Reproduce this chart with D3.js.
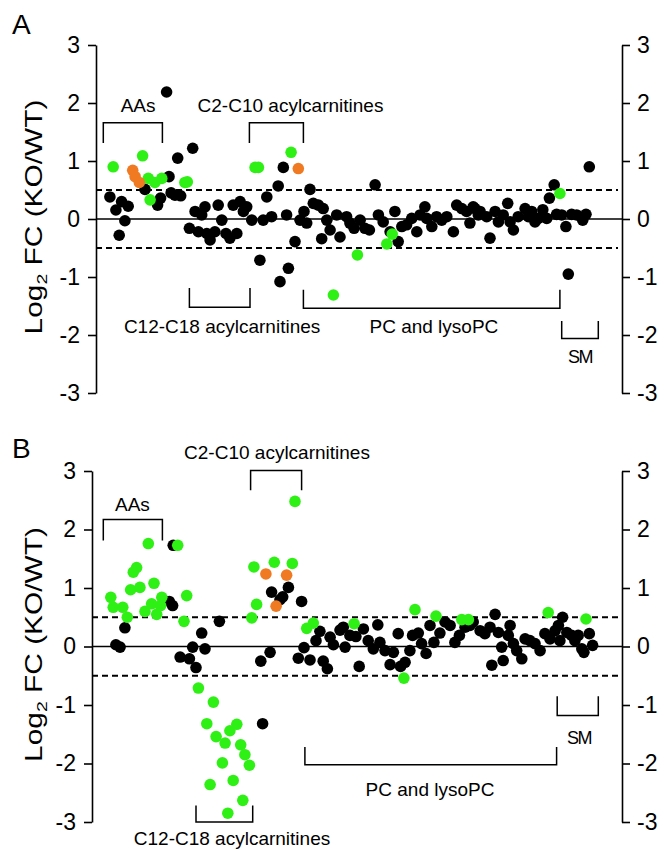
<!DOCTYPE html>
<html>
<head>
<meta charset="utf-8">
<script src="https://cdn.jsdelivr.net/npm/d3@7"></script>
<style>
body { margin: 0; background: #fff; }
svg text { font-family: "Liberation Sans", Arial, Helvetica, sans-serif; fill: #000; }
</style>
</head>
<body>
<div id="chart"></div>
<script>
// x = metabolite order (AAs, acylcarnitines, PC/lysoPC, SM), y = log2 FC (KO/WT)
var yTicks = [-3, -2, -1, 0, 1, 2, 3];
var cutoff = 0.5;

// ---- panel A ----
var aBlackPos = [5.3,7.3,9.2,11.4,10.3,8.4,17.0,24.2,25.0,22.2,21.2,25.7,27.9,28.9,27.0,32.9,31.8,33.7,34.8,37.0,35.9,37.6,38.7,40.3,41.4,42.6,44.0,45.3,47.6,46.4,48.7,49.8,50.9,52.6,55.3,57.6,56.4,59.2,61.4,63.1,62.0,64.8,64.2,72.0,73.1,74.8,76.4,70.0,68.7,70.9,67.0,77.6,78.7,75.9,80.9,82.0,84.2,85.3,86.7,88.7,90.3,91.8,93.7,94.8,96.4,100.3,101.4,98.7,102.6,104.2,105.9,107.6,108.7,110.3,110.9,112.6,114.2,115.9,117.6,119.8,120.9,122.6,124.2,125.3,127.0,128.1,126.4,128.7,130.9,132.0,133.7,134.8,136.4,137.9,138.7,139.8,141.4,143.7,144.8,145.9,147.0,148.1,149.6,150.9,151.8,153.4,154.2,157.3,155.9,158.1,159.2,160.9,162.9,164.0,165.1];
var aBlackFc = [0.38,0.155,0.30,0.22,-0.03,-0.28,0.51,2.19,0.73,0.36,0.24,0.45,1.05,0.40,0.41,1.22,-0.16,0.13,-0.22,0.21,0.07,-0.25,-0.36,-0.22,0.24,-0.02,-0.25,-0.33,-0.25,0.24,0.30,0.13,0.21,-0.02,-0.71,0.38,-0.02,0.04,0.57,0.89,-1.08,-0.85,0.07,0.51,0.27,0.24,0.18,0.13,-0.02,-0.07,-0.39,-0.02,-0.19,-0.34,0.07,-0.31,0.04,-0.07,-0.16,-0.02,-0.16,-0.19,0.59,0.07,-0.05,0.13,-0.39,-0.22,-0.13,-0.10,0.01,-0.22,0.07,0.21,0.01,-0.13,0.04,-0.02,0.04,-0.22,0.24,0.18,0.13,-0.07,0.18,0.07,0.21,0.13,0.04,-0.33,0.13,-0.05,0.07,0.27,-0.05,-0.19,0.04,0.18,0.04,0.13,-0.05,0.01,0.16,0.01,0.36,0.59,0.08,-0.13,0.07,-0.95,0.08,0.07,-0.02,0.08,0.90];
var aGreenPos = [6.4,16.2,18.1,20.3,22.6,18.7,30.3,31.1,53.7,54.8,65.7,87.8,79.8,99.4,97.6,155.3];
var aGreenFc = [0.90,1.09,0.70,0.63,0.70,0.33,0.63,0.64,0.89,0.89,1.15,-0.62,-1.31,-0.26,-0.43,0.44];
var aOrangePos = [12.9,13.7,15.1,68.1];
var aOrangeFc = [0.84,0.73,0.63,0.87];

// ---- panel B ----
var bBlackPos = [10.3,7.3,8.7,25.1,26.2,26.4,28.7,31.8,34.0,32.9,35.9,37.0,41.8,59.2,62.0,62.9,64.8,69.2,58.7,55.6,56.2,70.0,68.1,72.0,75.3,74.0,76.4,77.8,78.7,79.8,82.0,83.7,83.1,85.3,88.4,87.3,89.8,91.4,93.1,94.6,95.3,97.0,98.7,99.8,101.4,102.2,103.7,105.3,106.2,108.1,109.2,110.7,112.0,113.3,115.3,117.0,118.7,120.3,121.8,123.7,126.4,125.3,128.7,130.3,132.0,133.7,134.8,135.9,136.4,132.6,138.7,138.1,139.8,140.9,142.6,143.7,145.3,147.0,148.7,150.3,152.0,153.7,154.8,156.2,155.3,157.6,159.2,160.3,161.4,162.6,163.3,165.1,166.2];
var bBlackFc = [0.32,0.03,-0.01,0.77,0.70,1.73,-0.18,-0.21,-0.36,-0.01,0.23,-0.04,0.43,0.93,0.80,0.85,1.01,0.77,-0.10,-0.25,-1.32,-0.02,-0.20,-0.23,0.26,0.10,-0.25,-0.38,0.16,0.03,0.28,-0.01,0.33,0.19,-0.34,0.17,0.30,0.10,-0.04,0.37,0.07,-0.07,-0.31,-0.10,0.22,-0.34,-0.27,-0.07,0.19,0.23,0.05,-0.12,0.36,0.07,0.23,0.42,0.36,0.07,0.19,0.33,0.42,0.36,0.27,0.22,0.33,0.55,0.24,-0.01,-0.24,-0.32,0.36,0.19,0.05,-0.07,-0.21,0.13,0.10,0.05,-0.07,0.22,0.13,0.27,0.36,0.50,0.10,0.24,0.19,0.10,0.19,-0.04,-0.10,0.22,0.02];
var bGreenPos = [5.6,6.4,9.6,11.1,12.2,13.1,14.2,15.3,18.1,17.0,19.2,20.0,20.9,22.6,22.2,27.9,30.9,30.0,34.8,39.8,37.6,40.7,43.7,45.3,47.6,48.9,50.3,51.8,42.8,46.4,38.7,49.6,44.6,53.3,54.2,52.6,60.1,66.1,67.0,70.9,73.1,86.7,103.3,107.0,114.0,122.6,124.8,151.4,164.0];
var bGreenFc = [0.84,0.67,0.67,0.50,0.97,1.27,1.35,1.01,1.76,0.60,0.73,1.08,0.55,0.84,0.70,1.73,0.87,0.43,-0.71,-0.95,-1.32,-1.54,-1.65,-1.44,-1.33,-1.68,-1.85,-2.03,-1.99,-2.29,-2.36,-2.63,-2.85,1.36,0.72,0.49,1.44,1.42,2.48,0.31,0.40,0.39,-0.54,0.63,0.52,0.46,0.46,0.58,0.47];
var bOrangePos = [57.3,64.2,60.7];
var bOrangeFc = [1.24,1.22,0.69];

// class brackets: [label, from, to, bar y, end y, label x, label y]
var bracketsA = [
  ["AAs", 3.1, 22.8, 1.66, 1.31, 14.7, 1.85],
  ["C2-C10 acylcarnitines", 51.8, 69.8, 1.66, 1.31, 65.5, 1.85],
  ["C12-C18 acylcarnitines", 31.8, 52.0, -1.52, -1.19, 42.7, -1.97],
  ["PC and lysoPC", 69.8, 155.3, -1.54, -1.22, 113.3, -1.97],
  ["SM", 155.9, 168.1, -2.06, -1.76, 162, -2.48]
];
var bracketsB = [
  ["AAs", 3.1, 22.8, 2.17, 1.81, 12.8, 2.32],
  ["C2-C10 acylcarnitines", 52.2, 69.2, 3.01, 2.67, 61, 3.21],
  ["C12-C18 acylcarnitines", 34.0, 52.9, -3.0, -2.72, 46, -3.39],
  ["PC and lysoPC", 70.3, 154.2, -2.02, -1.72, 112, -2.55],
  ["SM", 154.4, 168.1, -1.18, -0.85, 161.7, -1.66]
];

var colors = { k: "#000000", g: "#2ff014", o: "#f07a22" };
var W = 664, H = 850;
var svg = d3.select("#chart").append("svg").attr("width", W).attr("height", H).style("background", "#fff");

var x = d3.scaleLinear().domain([0, 176]).range([94, 622]);
var rightX = 622;

var panels = [
  { letter: "A", top: 45, bottom: 393, leftX: 96, letterY: 34,
    series: [[aBlackPos, aBlackFc, "k"], [aGreenPos, aGreenFc, "g"], [aOrangePos, aOrangeFc, "o"]],
    brackets: bracketsA },
  { letter: "B", top: 471, bottom: 822, leftX: 92, letterY: 458,
    series: [[bBlackPos, bBlackFc, "k"], [bGreenPos, bGreenFc, "g"], [bOrangePos, bOrangeFc, "o"]],
    brackets: bracketsB }
];

panels.forEach(function (p) {
  var y = d3.scaleLinear().domain([-3, 3]).range([p.bottom, p.top]);
  var g = svg.append("g");

  // reference lines
  g.append("line").attr("x1", p.leftX).attr("x2", rightX).attr("y1", y(0)).attr("y2", y(0))
    .attr("stroke", "#000").attr("stroke-width", 1.5);
  [cutoff, -cutoff].forEach(function (c) {
    g.append("line").attr("x1", p.leftX).attr("x2", 618).attr("y1", y(c)).attr("y2", y(c))
      .attr("stroke", "#000").attr("stroke-width", 2).attr("stroke-dasharray", "6,4");
  });

  // axes
  var left = g.append("g").attr("transform", "translate(" + p.leftX + ",0)")
    .call(d3.axisLeft(y).tickValues(yTicks).tickSize(8).tickSizeOuter(0).tickPadding(8).tickFormat(function (d) { return String(d); }));
  var right = g.append("g").attr("transform", "translate(" + rightX + ",0)")
    .call(d3.axisRight(y).tickValues(yTicks).tickSize(8).tickSizeOuter(0).tickPadding(7).tickFormat(function (d) { return String(d); }));
  [left, right].forEach(function (ax) {
    ax.select(".domain").attr("stroke-width", 1.6);
    ax.selectAll(".tick line").attr("stroke-width", 1.6);
    ax.selectAll(".tick text").attr("font-size", 23).attr("font-family", "Liberation Sans, Arial, sans-serif").attr("fill", "#000");
  });

  // points
  p.series.forEach(function (s) {
    var pts = s[0].map(function (v, i) { return { pos: v, fc: s[1][i] }; });
    g.append("g").selectAll("circle").data(pts).enter().append("circle")
      .attr("cx", function (d) { return x(d.pos); })
      .attr("cy", function (d) { return y(d.fc); })
      .attr("r", 5.8)
      .attr("fill", colors[s[2]]);
  });

  // brackets
  p.brackets.forEach(function (b) {
    var path = d3.path();
    path.moveTo(x(b[1]), y(b[4]));
    path.lineTo(x(b[1]), y(b[3]));
    path.lineTo(x(b[2]), y(b[3]));
    path.lineTo(x(b[2]), y(b[4]));
    g.append("path").attr("d", path.toString()).attr("fill", "none").attr("stroke", "#000").attr("stroke-width", 1.5);
    var t = g.append("text").attr("x", x(b[5])).attr("y", y(b[6])).attr("text-anchor", "middle")
      .attr("font-size", 19).text(b[0]);
    if (b[0] == "SM") t.attr("font-size", 18).attr("letter-spacing", -1.5);
  });

  // panel letter
  svg.append("text").attr("x", 12).attr("y", p.letterY).attr("font-size", 28).text(p.letter);

  // y label
  var cy = (p.top + p.bottom) / 2 - 2;
  var lab = svg.append("text").attr("text-anchor", "middle").attr("font-size", 23)
    .attr("transform", "translate(42," + cy + ") rotate(-90) scale(1.3,1)");
  lab.append("tspan").text("Log");
  lab.append("tspan").attr("font-size", 15).attr("dy", 5).text("2");
  lab.append("tspan").attr("dy", -5).text(" FC (KO/WT)");
});
</script>
</body>
</html>
